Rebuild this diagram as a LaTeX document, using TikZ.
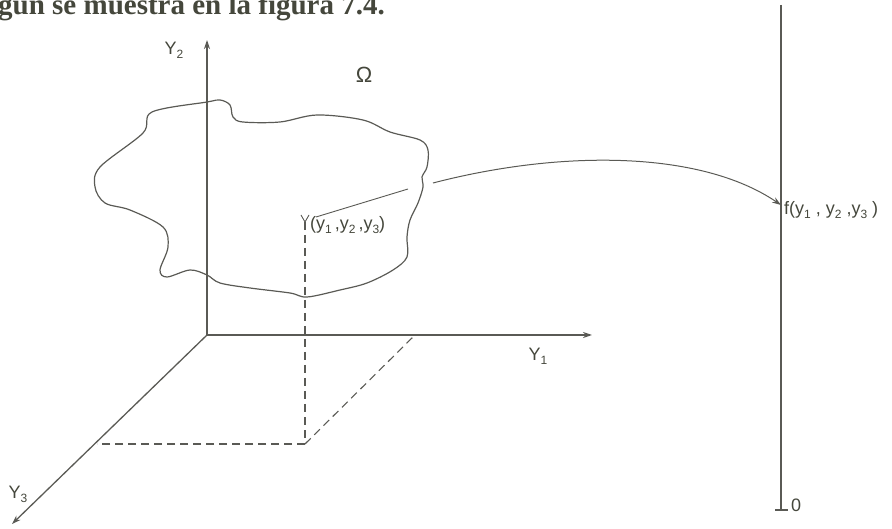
\documentclass[tikz,border=0pt]{standalone}
\usepackage{fontspec}
\setmainfont{Liberation Sans}
\newfontfamily\bookfont{Liberation Serif}
\usetikzlibrary{arrows.meta}
\definecolor{ink}{HTML}{5A5A55}
\definecolor{txt}{HTML}{45473C}
\newcommand\lsub[1]{\raisebox{-0.4ex}{\fontsize{12}{12}\selectfont #1}}
\tikzset{
  axis/.style={draw=ink, line width=1.3pt, -{Stealth[length=9pt,width=6pt]}},
  plain/.style={draw=ink, line width=1.2pt},
  dash line/.style={draw=ink, line width=1.1pt, dash pattern=on 8pt off 5pt},
  lab/.style={text=txt, font=\fontsize{18}{20}\selectfont, inner sep=0pt},
}
\begin{document}
\begin{tikzpicture}[x=1pt,y=-1pt]
\useasboundingbox (0,0) rectangle (892,529);
% top text of book
\node[anchor=base west, inner sep=0pt, text=txt, font=\bookfont\bfseries\fontsize{29}{31}\selectfont] (book) at (-2,15) {gún se muestra en la figura 7.4.};
% axes
\coordinate (O) at (207,335);
\coordinate (Y2end) at (207,40);
\coordinate (Y1end) at (592,335);
\coordinate (Y3end) at (12,524);
\draw[axis] (O) -- (Y2end);
\draw[axis] (O) -- (Y1end);
\draw[axis] (O) -- (Y3end);
\node[lab] (y2lab) at (174,50) {Y\lsub{2}};
\node[lab] (y1lab) at (538,356) {Y\lsub{1}};
\node[lab] (y3lab) at (18,494) {Y\lsub{3}};
% region Omega
\draw[plain] plot[smooth cycle, tension=0.55] coordinates {
(207,102) (220,100) (230,105) (233,117) (243,122) (280,122) (317,115) (363,120)
(390,132) (420,140) (428,150) (427,167) (422,177) (423,187) (418,203) (410,220)
(407,237) (407,257) (393,270) (367,283) (340,290) (307,297) (290,293) (250,288)
(220,283) (207,275) (190,270) (167,277) (160,270) (168,247) (163,227) (130,210)
(105,203) (95,187) (100,167) (143,133) (152,112)};
\node[lab, font=\fontsize{22}{24}\selectfont] (omega) at (364,75) {Ω};
% point and projections
\coordinate (P) at (305,222);
\coordinate (Pb) at (305,444);
\coordinate (P3) at (97,444);
\coordinate (P1) at (415,335);
\draw[plain, line width=0.9pt] (301,215) -- (P) -- (309,215);
\draw[dash line] (P) -- (Pb);
\draw[dash line] (Pb) -- (P3);
\draw[dash line] (Pb) -- (P1);
\node[lab, anchor=west] (plab) at (310,225) {(y\lsub{1}\,,y\lsub{2}\,,y\lsub{3})};
% value axis
\coordinate (Vtop) at (781,5);
\coordinate (Vbot) at (781,510);
\draw[plain] (Vtop) -- (Vbot);
\draw[plain] (775,510) -- (788,510);
\node[lab, anchor=west] (zero) at (791,505) {0};
\coordinate (F) at (781,205);
\node[lab, anchor=west] (flab) at (784,210) {f(y\lsub{1} , y\lsub{2} ,y\lsub{3} )};
% mapping
\coordinate (A1) at (316,217);
\coordinate (A2) at (408,189);
\coordinate (A3) at (433,183);
\draw[plain, line width=0.9pt] (A1) -- (A2);
\draw[plain, line width=1pt, -{Stealth[length=9pt,width=6pt]}] (A3) .. controls (560,150) and (700,150) .. (F);
\end{tikzpicture}
\end{document}
